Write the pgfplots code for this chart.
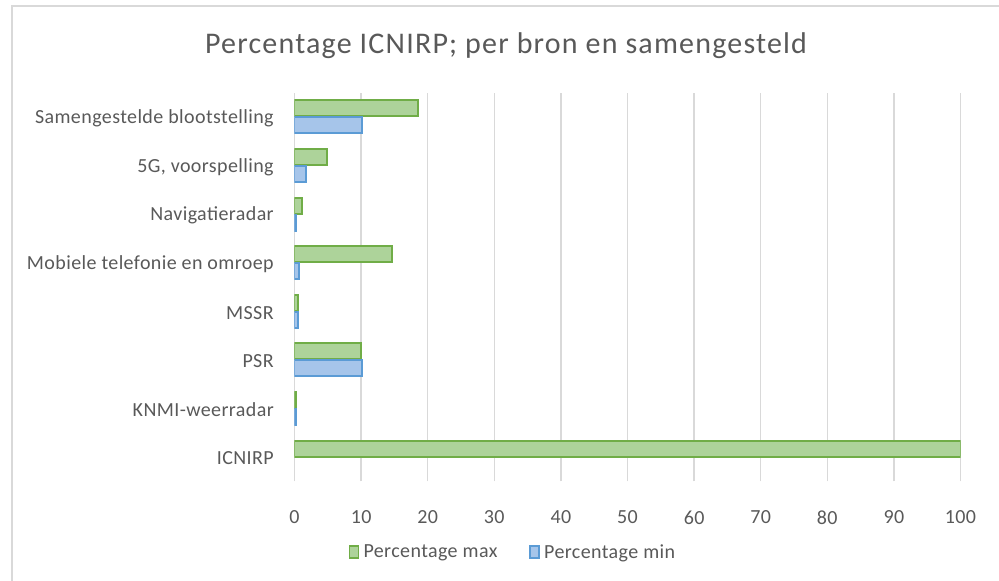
\documentclass[border=0pt]{standalone}
\usepackage{pgfplots}
\pgfplotsset{compat=1.18}
\usepackage{fontspec}
\setmainfont{Carlito}
\newfontfamily\titlefont{Carlito}[LetterSpace=4]
\newfontfamily\labfont{Carlito}[LetterSpace=2]
\definecolor{txt}{HTML}{595959}
\definecolor{gridc}{HTML}{D9D9D9}
\definecolor{gline}{HTML}{70AD47}
\definecolor{gfill}{HTML}{ADD39A}
\definecolor{bline}{HTML}{5B9BD5}
\definecolor{bfill}{HTML}{A6C5EA}
\begin{document}
\begin{tikzpicture}[x=1pt,y=1pt]
\useasboundingbox (0,0) rectangle (999,581);
\draw[gridc,line width=1.2pt] (12,-5) -- (12,575) -- (1010,575);
\node[txt,font=\titlefont\fontsize{30}{34}\selectfont] at (506,535) {Percentage ICNIRP; per bron en samengesteld};
\begin{axis}[
  at={(294.5pt,99.7pt)}, anchor=south west,
  scale only axis, width=666pt, height=388.6pt,
  xmin=0, xmax=100, ymin=-0.5, ymax=7.5,
  xtick={0,10,...,100},
  ytick={0,...,7},
  yticklabels={ICNIRP,KNMI-weerradar,PSR,MSSR,Mobiele telefonie en omroep,Navigatieradar,{5G, voorspelling},Samengestelde blootstelling},
  xmajorgrids=true, ymajorgrids=false,
  major grid style={draw=gridc,line width=1.5pt},
  axis line style={draw=none},
  tick style={draw=none},
  tick label style={txt,font=\labfont\fontsize{20}{24}\selectfont},
  /pgf/number format/assume math mode=true,
  xticklabel style={yshift=-26pt},
  yticklabel style={xshift=-13pt,yshift=-1.5pt},
  xbar, bar width=16pt,
  legend columns=2,
  legend style={draw=none,at={(0.328,-0.182)},anchor=center,font=\labfont\fontsize{20}{24}\selectfont,text=txt,
    /tikz/every even column/.append style={column sep=30pt}},
  legend image code/.code={\draw[#1,line width=1.5pt] (0pt,-6pt) rectangle (9pt,6pt); \path (11pt,0pt);},
]
\draw[gridc,line width=1.5pt] (axis cs:0,-0.5) -- (axis cs:0,7.5);
\addplot[bar shift=8.5pt, draw=gline, fill=gfill, line width=2pt] coordinates {
(100,0) (0.2,1) (10.0,2) (0.6,3) (14.6,4) (1.1,5) (4.9,6) (18.6,7)};
\addplot[bar shift=-8.5pt, draw=bline, fill=bfill, line width=2pt] coordinates {
(0.2,1) (10.1,2) (0.55,3) (0.7,4) (0.2,5) (1.7,6) (10.2,7)};
\legend{Percentage max,Percentage min}
\end{axis}
\end{tikzpicture}
\end{document}
